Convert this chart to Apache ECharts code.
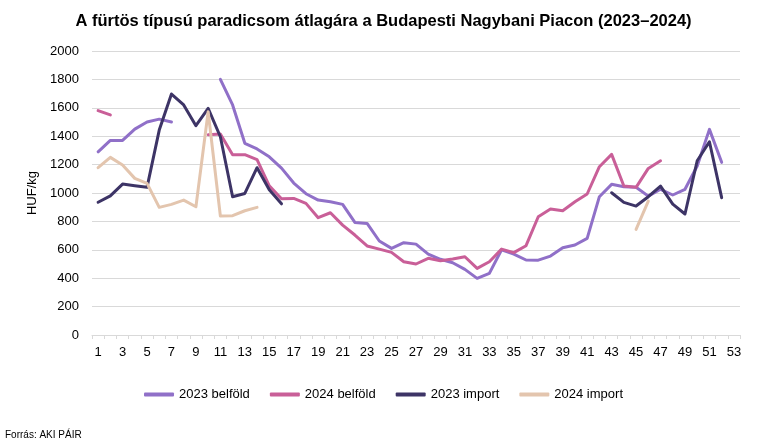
<!DOCTYPE html>
<html>
<head>
<meta charset="utf-8">
<script src="https://cdn.jsdelivr.net/npm/echarts@6/dist/echarts.min.js"></script>
<style>
html,body{margin:0;padding:0;background:#fff;}
#chart{width:767px;height:448px;}
</style>
</head>
<body>
<div id="chart"></div>
<script>
const weeks = Array.from({length: 53}, (_, i) => String(i + 1));
const yTicks = [0, 200, 400, 600, 800, 1000, 1200, 1400, 1600, 1800, 2000];
const seriesNames = ['2023 belföld', '2024 belföld', '2023 import', '2024 import'];

const belfold2023 = [1290,1370,1370,1450,1500,1520,1500,null,null,null,
  1800,1620,1350,1310,1255,1175,1070,995,950,938,
  920,793,786,662,610,650,640,570,533,509,
  462,399,434,600,570,528,527,556,615,634,
  680,974,1061,1044,1040,978,1026,986,1026,1190,
  1448,1216,null];
const belfold2024 = [1580,1550,null,null,null,null,null,null,null,1410,
  1415,1270,1270,1235,1050,960,962,927,826,861,
  774,704,627,605,582,516,500,540,523,535,
  551,469,516,605,580,629,833,887,875,938,
  993,1185,1272,1049,1040,1173,1227,null,null,null,
  null,null,null];
const import2023 = [935,980,1063,1051,1040,1443,1697,1620,1474,1596,
  1396,974,997,1178,1023,924,null,null,null,null,
  null,null,null,null,null,null,null,null,null,null,
  null,null,null,null,null,null,null,null,null,null,
  null,null,1002,934,908,974,1049,922,852,1227,
  1361,967,null];
const import2024 = [1178,1251,1197,1103,1068,899,920,950,903,1572,
  838,840,875,899,null,null,null,null,null,null,
  null,null,null,null,null,null,null,null,null,null,
  null,null,null,null,null,null,null,null,null,null,
  null,null,null,null,744,943,null,null,null,null,
  null,null,null];

const colors = ['#9070c8', '#c95f98', '#3d3466', '#e3c5ae'];
const dataSets = [belfold2023, belfold2024, import2023, import2024];

const chart = echarts.init(document.getElementById('chart'));
const font = 'Liberation Sans, Arial, sans-serif';
chart.setOption({
  animation: false,
  textStyle: {fontFamily: font},
  title: {
    text: 'A fürtös típusú paradicsom átlagára a Budapesti Nagybani Piacon (2023–2024)',
    left: 'center', top: 8,
    textStyle: {fontFamily: font, fontSize: 16.5, fontWeight: 'bold', color: '#000'}
  },
  grid: {left: 92, right: 27, top: 51, bottom: 113},
  legend: {
    data: seriesNames,
    bottom: 42,
    left: 'center',
    icon: 'roundRect',
    itemWidth: 30, itemHeight: 4, itemGap: 20,
    textStyle: {fontFamily: font, fontSize: 13, color: '#000'}
  },
  xAxis: {
    type: 'category',
    data: weeks,
    boundaryGap: true,
    axisLine: {lineStyle: {color: '#d9d9d9', width: 1}},
    axisTick: {show: true, interval: 0, length: 4, lineStyle: {color: '#d9d9d9'}},
    axisLabel: {interval: 1, margin: 11, fontSize: 13, color: '#000', fontFamily: font}
  },
  yAxis: {
    type: 'value',
    min: yTicks[0], max: yTicks[yTicks.length - 1], interval: 200,
    name: 'HUF/kg', nameLocation: 'middle', nameGap: 49, nameRotate: 90,
    nameTextStyle: {fontSize: 13, color: '#000', fontFamily: font},
    axisLine: {show: false},
    axisTick: {show: false},
    axisLabel: {margin: 13, fontSize: 13, color: '#000', fontFamily: font,
      formatter: v => String(v)},
    splitLine: {lineStyle: {color: '#d9d9d9', width: 1}}
  },
  series: seriesNames.map((n, i) => ({
    name: n,
    type: 'line',
    data: dataSets[i],
    showSymbol: false,
    symbol: 'none',
    connectNulls: false,
    color: colors[i],
    lineStyle: {width: 3, color: colors[i], cap: 'round', join: 'round'}
  })),
  graphic: [{
    type: 'text', left: 5, top: 430,
    style: {text: 'Forrás: AKI PÁIR', fontSize: 10, fill: '#000', fontFamily: font}
  }]
});
</script>
</body>
</html>
